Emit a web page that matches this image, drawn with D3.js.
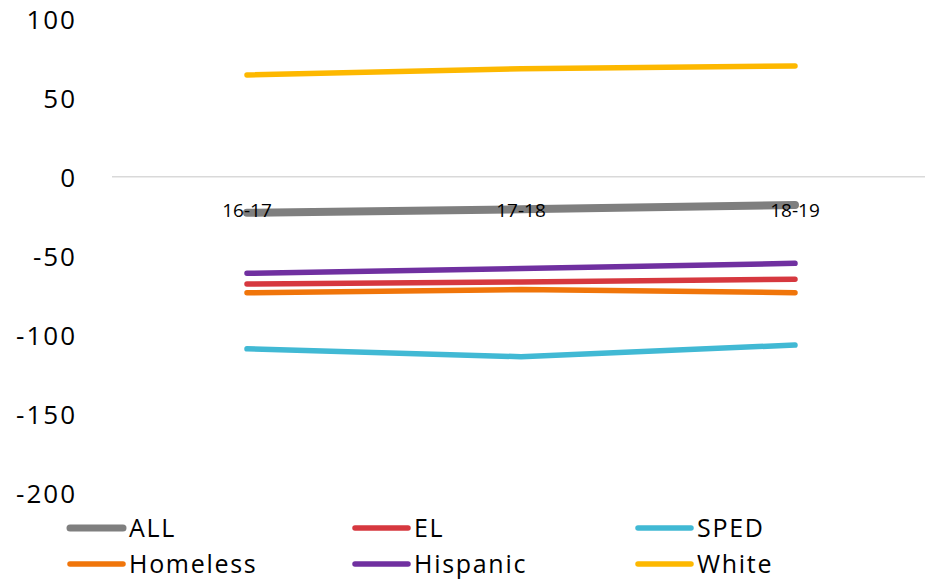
<!DOCTYPE html>
<html>
<head>
<meta charset="utf-8">
<script src="https://cdn.jsdelivr.net/npm/d3@7"></script>
<style>
  body { margin: 0; background: #fff; }
  text { font-family: "Open Sans", sans-serif; fill: #000; }
  .zeroLine { stroke: #d9d9d9; stroke-width: 1.5; }
</style>
</head>
<body>
<script>
(function (){

    //chart data
    var years = ["16-17", "17-18", "18-19"];
    var seriesNames = ["ALL", "EL", "SPED", "Homeless", "Hispanic", "White"];
    var allVals = [-22.8, -20.6, -17.9];
    var elVals = [-67.9, -66.6, -64.9];
    var spedVals = [-108.9, -113.9, -106.5];
    var homelessVals = [-73.4, -71.4, -73.4];
    var hispanicVals = [-61.1, -58.1, -54.8];
    var whiteVals = [64.4, 68.4, 70.1];
    var yTicks = [100, 50, 0, -50, -100, -150, -200];

    var colors = {
        "ALL": "#7f7f7f",
        "EL": "#d6383f",
        "SPED": "#41b9d4",
        "Homeless": "#f0750a",
        "Hispanic": "#7030a0",
        "White": "#fdb800"
    };

    window.onload = setChart();

    function setChart(){
        var width = 925,
            height = 579;

        var svg = d3.select("body")
            .append("svg")
            .attr("width", width)
            .attr("height", height);

        var series = [
            {name: "ALL", values: allVals, sw: 8},
            {name: "EL", values: elVals, sw: 5.5},
            {name: "SPED", values: spedVals, sw: 5.5},
            {name: "Homeless", values: homelessVals, sw: 5.5},
            {name: "Hispanic", values: hispanicVals, sw: 5.5},
            {name: "White", values: whiteVals, sw: 5.5}
        ];

        //scales
        var x = d3.scalePoint()
            .domain(years)
            .range([110, 932])
            .padding(0.5);

        var y = d3.scaleLinear()
            .domain([-200, 100])
            .range([492.8, 176.7 - 158]);

        //zero line
        svg.append("line")
            .attr("class", "zeroLine")
            .attr("x1", 112)
            .attr("x2", width)
            .attr("y1", y(0))
            .attr("y2", y(0));

        //y axis labels (plain hyphen for negatives, like the original)
        var yAxis = d3.axisLeft(y)
            .tickValues(yTicks)
            .tickSize(0)
            .tickPadding(0)
            .tickFormat(function(d){ return String(d); });

        var axis = svg.append("g")
            .attr("transform", "translate(77,0)")
            .call(yAxis);
        axis.select(".domain").remove();
        axis.selectAll("text")
            .style("font-family", "'Open Sans', sans-serif")
            .style("font-size", "26px")
            .style("letter-spacing", "2px")
            .attr("dy", "0.36em");

        //lines
        var line = d3.line()
            .x(function(d, i){ return x(years[i]); })
            .y(function(d){ return y(d); });

        svg.selectAll(".series")
            .data(series)
            .enter()
            .append("path")
            .attr("class", "series")
            .attr("d", function(d){ return line(d.values); })
            .style("fill", "none")
            .style("stroke", function(d){ return colors[d.name]; })
            .style("stroke-width", function(d){ return d.sw; })
            .style("stroke-linecap", "round")
            .style("stroke-linejoin", "round");

        //category labels, sit under the zero line
        svg.selectAll(".catLabel")
            .data(years)
            .enter()
            .append("text")
            .attr("class", "catLabel")
            .attr("x", function(d){ return x(d); })
            .attr("y", 217)
            .attr("text-anchor", "middle")
            .style("font-size", "19px")
            .text(function(d){ return d; });

        //legend
        var legendX = [70, 355, 638],
            legendY = [528, 564];

        var legend = svg.selectAll(".legendItem")
            .data(series)
            .enter()
            .append("g")
            .attr("class", "legendItem")
            .attr("transform", function(d, i){
                return "translate(" + legendX[i % 3] + "," + legendY[Math.floor(i / 3)] + ")";
            });

        legend.append("line")
            .attr("x1", 0)
            .attr("x2", 53)
            .style("stroke", function(d){ return colors[d.name]; })
            .style("stroke-width", function(d){ return d.name == "ALL" ? 7 : 5.5; })
            .style("stroke-linecap", "round");

        legend.append("text")
            .attr("x", 59)
            .attr("dy", "0.36em")
            .style("font-size", "25px")
            .style("letter-spacing", "1.7px")
            .text(function(d){ return d.name; });
    }

})();
</script>
</body>
</html>
